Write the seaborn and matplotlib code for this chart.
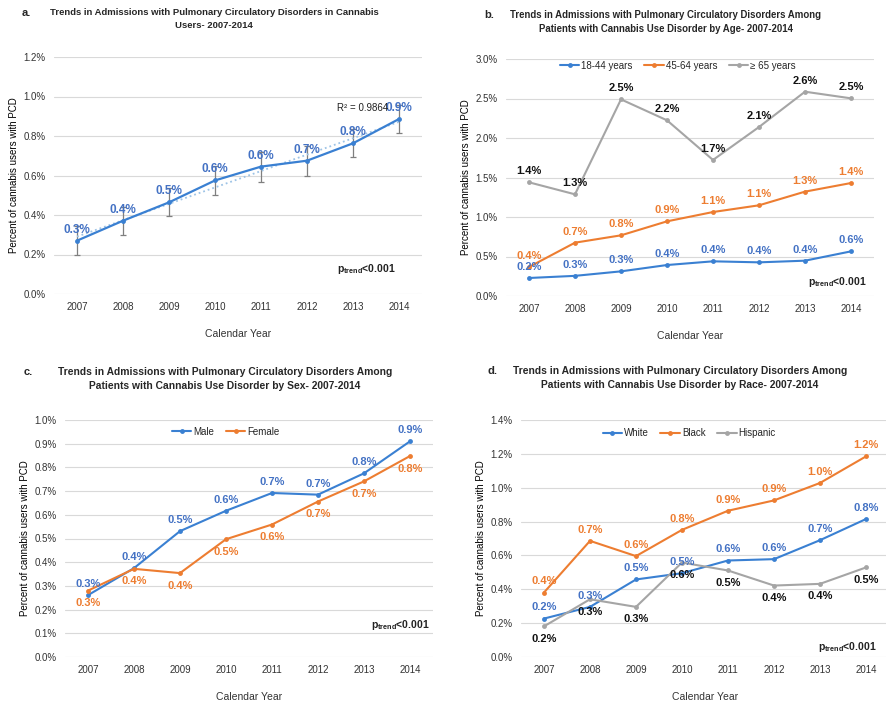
import numpy as np
import pandas as pd
import matplotlib
matplotlib.use("Agg")
import matplotlib.pyplot as plt
import seaborn as sns

# ---- data ----
years = [2007, 2008, 2009, 2010, 2011, 2012, 2013, 2014]

overall = [0.270, 0.371, 0.464, 0.575, 0.645, 0.675, 0.763, 0.886]
overall_err = [0.074, 0.071, 0.071, 0.072, 0.076, 0.075, 0.071, 0.073]
r2_text = "R\u00b2 = 0.9864"

age_18_44 = [0.228, 0.255, 0.312, 0.392, 0.439, 0.426, 0.447, 0.565]
age_45_64 = [0.367, 0.675, 0.768, 0.945, 1.063, 1.148, 1.321, 1.430]
age_65 = [1.439, 1.287, 2.489, 2.224, 1.722, 2.139, 2.586, 2.502]

male = [0.261, 0.375, 0.531, 0.617, 0.692, 0.685, 0.775, 0.910]
female = [0.280, 0.372, 0.354, 0.497, 0.559, 0.656, 0.741, 0.848]

white = [0.227, 0.296, 0.458, 0.495, 0.570, 0.578, 0.690, 0.815]
black = [0.381, 0.686, 0.596, 0.751, 0.864, 0.925, 1.028, 1.185]
hispanic = [0.181, 0.341, 0.296, 0.558, 0.511, 0.422, 0.432, 0.529]

titles = {
    "a": "Trends in Admissions with Pulmonary Circulatory Disorders in Cannabis\nUsers- 2007-2014",
    "b": "Trends in Admissions with Pulmonary Circulatory Disorders Among\nPatients with Cannabis Use Disorder by Age- 2007-2014",
    "c": "Trends in Admissions with Pulmonary Circulatory Disorders Among\nPatients with Cannabis Use Disorder by Sex- 2007-2014",
    "d": "Trends in Admissions with Pulmonary Circulatory Disorders Among\nPatients with Cannabis Use Disorder by Race- 2007-2014",
}

BLUE = "#3A80D2"
BLUE_TXT = "#4472C4"
ORANGE = "#ED7D31"
GREY = "#A5A5A5"

sns.set_style("white")
plt.rcParams["font.family"] = ["Liberation Sans", "DejaVu Sans"]

W, H = 886, 704
fig = plt.figure(figsize=(W / 100, H / 100), dpi=100)


def make_ax(left, top, right, bottom):
    return fig.add_axes([left / W, 1 - bottom / H, (right - left) / W, (bottom - top) / H])


def style_ax(ax, ymax, step):
    ax.set_xlim(2006.5, 2014.5)
    ax.set_ylim(0, ymax)
    ax.set_xticks(years)
    ax.set_xticklabels([str(y) for y in years], fontsize=7, color="#333333")
    ticks = np.arange(0, ymax + step / 2, step)
    ax.set_yticks(ticks)
    ax.set_yticklabels([f"{t:.1f}%" for t in ticks], fontsize=7, color="#333333")
    ax.grid(axis="y", color="#D9D9D9", linewidth=0.8)
    ax.set_axisbelow(True)
    for s in ax.spines.values():
        s.set_visible(False)
    ax.tick_params(length=0, pad=6)
    ax.set_xlabel("Calendar Year", fontsize=7.5, color="#333333", labelpad=12)
    ax.set_ylabel("Percent of cannabis users with PCD", fontsize=7, color="#000000", labelpad=3)


def label_points(ax, vals, color, above=True, size=8):
    off = 8 if above else -9
    for x, v in zip(years, vals):
        ax.annotate(f"{v:.1f}%", (x, v), xytext=(0, off), textcoords="offset points",
                    ha="center", va="center", fontsize=size, fontweight="bold", color=color)


def ptrend(ax, x, y):
    ax.text(x, y, r"p$_{\mathregular{trend}}$<0.001", ha="center", va="center",
            fontsize=7.5, fontweight="bold", color="#222222")


def header(letter_px, center_px, top_px, letter, text, size):
    fig.text(letter_px / W, 1 - top_px / H, letter + ".", fontsize=8, fontweight="bold", va="top")
    fig.text(center_px / W, 1 - top_px / H, text, fontsize=size, fontweight="bold",
             ha="center", va="top", linespacing=1.55)


def draw_groups(ax, series, palette):
    df = pd.DataFrame({
        "year": years * len(series),
        "pct": [v for vals in series.values() for v in vals],
        "group": [g for g in series for _ in years],
    })
    sns.lineplot(data=df, x="year", y="pct", hue="group", palette=palette,
                 marker="o", markersize=3.5, markeredgewidth=0, linewidth=1.5, ax=ax)


# ---- panel a ----
ax = make_ax(54, 57, 422, 294)
ax.errorbar(years, overall, yerr=overall_err, fmt="none", ecolor="#7F7F7F",
            elinewidth=0.9, capsize=2, capthick=0.9, zorder=2)
sns.regplot(x=years, y=overall, ci=None, scatter=False, ax=ax,
            line_kws={"color": "#9DC3E6", "linestyle": ":", "linewidth": 1.3, "zorder": 3})
sns.lineplot(x=years, y=overall, color=BLUE, marker="o", markersize=3.5,
             markeredgewidth=0, linewidth=1.6, ax=ax, zorder=4)
style_ax(ax, 1.2, 0.2)
label_points(ax, overall, BLUE_TXT, size=8.5)
ax.text(2013.2, 0.94, r2_text, ha="center", va="center", fontsize=7, color="#222222")
ptrend(ax, 2013.3, 0.128)
header(22, 214, 8, "a", titles["a"], 6.8)

# ---- panel b ----
ax = make_ax(506, 59, 874, 296)
draw_groups(ax, {"18-44 years": age_18_44, "45-64 years": age_45_64, "\u2265 65 years": age_65},
            [BLUE, ORANGE, GREY])
style_ax(ax, 3.0, 0.5)
label_points(ax, age_65, "#111111")
label_points(ax, age_45_64, ORANGE)
label_points(ax, age_18_44, BLUE_TXT)
h, l = ax.get_legend_handles_labels()
ax.legend(h, l, loc="center", bbox_to_anchor=(0.467, 0.972), ncol=3, frameon=False,
          fontsize=7, handlelength=2.0, handletextpad=0.2, columnspacing=1.2)
ptrend(ax, 2013.7, 0.177)
header(484, 666, 10, "b", titles["b"], 6.9)

# ---- panel c ----
ax = make_ax(65, 420, 433, 657)
draw_groups(ax, {"Male": male, "Female": female}, [BLUE, ORANGE])
style_ax(ax, 1.0, 0.1)
label_points(ax, male, BLUE_TXT)
label_points(ax, female, ORANGE, above=False)
h, l = ax.get_legend_handles_labels()
ax.legend(h, l, loc="center", bbox_to_anchor=(0.437, 0.95), ncol=2, frameon=False,
          fontsize=7, handlelength=2.0, handletextpad=0.2, columnspacing=1.2)
ptrend(ax, 2013.8, 0.135)
header(24, 225, 367, "c", titles["c"], 7.4)

# ---- panel d ----
ax = make_ax(521, 420, 889, 657)
draw_groups(ax, {"White": white, "Black": black, "Hispanic": hispanic}, [BLUE, ORANGE, GREY])
style_ax(ax, 1.4, 0.2)
label_points(ax, white, BLUE_TXT)
label_points(ax, black, ORANGE)
label_points(ax, hispanic, "#111111", above=False)
h, l = ax.get_legend_handles_labels()
ax.legend(h, l, loc="center", bbox_to_anchor=(0.457, 0.945), ncol=3, frameon=False,
          fontsize=7, handlelength=2.0, handletextpad=0.2, columnspacing=1.2)
ptrend(ax, 2013.6, 0.057)
header(487, 680, 366, "d", titles["d"], 7.4)

fig.savefig("out.png", dpi=100)
